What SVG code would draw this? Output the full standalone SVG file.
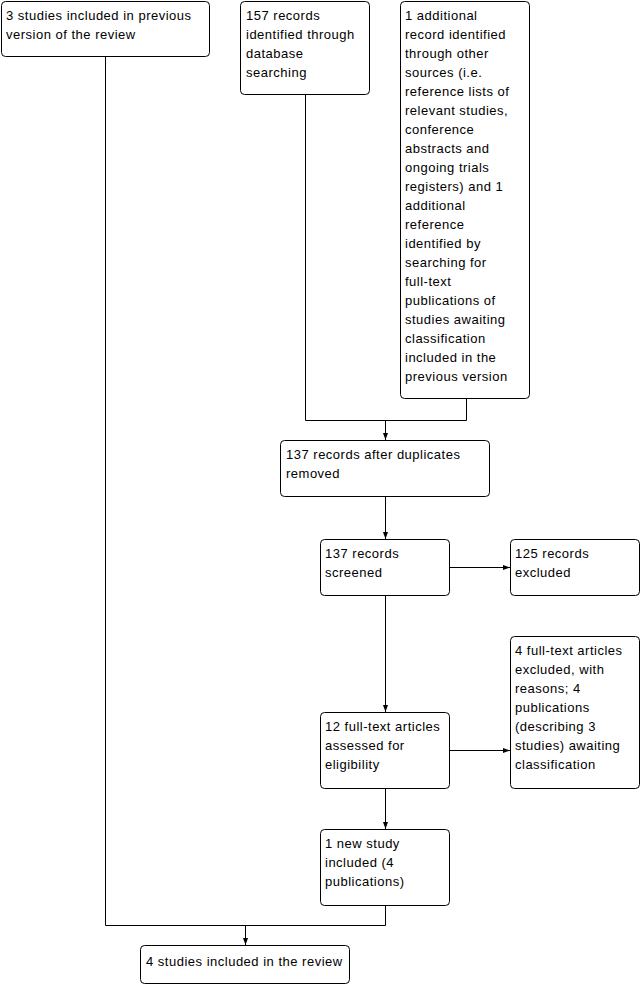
<svg xmlns="http://www.w3.org/2000/svg" width="642" height="985" viewBox="0 0 642 985">
<style>
.b{fill:#fff;stroke:#000;stroke-width:1}
.t{font-family:"Liberation Sans",Arial,sans-serif;font-size:13px;letter-spacing:0.5px;fill:#000}
.c{fill:none;stroke:#000;stroke-width:1}
</style>
<defs>
<marker id="a" markerWidth="8" markerHeight="6" refX="7" refY="3" orient="auto" markerUnits="userSpaceOnUse">
<path d="M0,0.5 L7,3 L0,5.5 z" fill="#000"/>
</marker>
</defs>
<rect width="642" height="985" fill="#fff"/>
<g id="connectors">
<path class="c" d="M305.5,95 V420.5 H466.5 V399"/>
<path class="c" d="M385.5,420.5 V440" marker-end="url(#a)"/>
<path class="c" d="M385.5,496 V539" marker-end="url(#a)"/>
<path class="c" d="M449,567.5 H510" marker-end="url(#a)"/>
<path class="c" d="M385.5,595 V712" marker-end="url(#a)"/>
<path class="c" d="M449,750.5 H510" marker-end="url(#a)"/>
<path class="c" d="M385.5,788 V829" marker-end="url(#a)"/>
<path class="c" d="M105.5,57 V925.5 H385.5 V905"/>
<path class="c" d="M245.5,925.5 V945" marker-end="url(#a)"/>
</g>
<g id="n1"><rect class="b" x="1.5" y="1.5" width="208" height="55" rx="4"/>
<text class="t" x="6" y="20">3 studies included in previous</text>
<text class="t" x="6" y="39">version of the review</text></g>
<g id="n2"><rect class="b" x="240.5" y="1.5" width="129" height="93" rx="4"/>
<text class="t" x="246" y="20">157 records</text>
<text class="t" x="246" y="39">identified through</text>
<text class="t" x="246" y="58">database</text>
<text class="t" x="246" y="77">searching</text></g>
<g id="n3"><rect class="b" x="400.5" y="1.5" width="129" height="397" rx="4"/>
<text class="t" x="405" y="20">1 additional</text>
<text class="t" x="405" y="39">record identified</text>
<text class="t" x="405" y="58">through other</text>
<text class="t" x="405" y="77">sources (i.e.</text>
<text class="t" x="405" y="96">reference lists of</text>
<text class="t" x="405" y="115">relevant studies,</text>
<text class="t" x="405" y="134">conference</text>
<text class="t" x="405" y="153">abstracts and</text>
<text class="t" x="405" y="172">ongoing trials</text>
<text class="t" x="405" y="191">registers) and 1</text>
<text class="t" x="405" y="210">additional</text>
<text class="t" x="405" y="229">reference</text>
<text class="t" x="405" y="248">identified by</text>
<text class="t" x="405" y="267">searching for</text>
<text class="t" x="405" y="286">full-text</text>
<text class="t" x="405" y="305">publications of</text>
<text class="t" x="405" y="324">studies awaiting</text>
<text class="t" x="405" y="343">classification</text>
<text class="t" x="405" y="362">included in the</text>
<text class="t" x="405" y="381">previous version</text></g>
<g id="n4"><rect class="b" x="280.5" y="440.5" width="209" height="56" rx="4"/>
<text class="t" x="286" y="459">137 records after duplicates</text>
<text class="t" x="286" y="478">removed</text></g>
<g id="n5"><rect class="b" x="320.5" y="539.5" width="129" height="56" rx="4"/>
<text class="t" x="325" y="558">137 records</text>
<text class="t" x="325" y="577">screened</text></g>
<g id="n6"><rect class="b" x="510.5" y="539.5" width="129" height="56" rx="4"/>
<text class="t" x="515" y="558">125 records</text>
<text class="t" x="515" y="577">excluded</text></g>
<g id="n7"><rect class="b" x="320.5" y="712.5" width="129" height="76" rx="4"/>
<text class="t" x="325" y="731">12 full-text articles</text>
<text class="t" x="325" y="750">assessed for</text>
<text class="t" x="325" y="769">eligibility</text></g>
<g id="n8"><rect class="b" x="510.5" y="636.5" width="129" height="152" rx="4"/>
<text class="t" x="515" y="655">4 full-text articles</text>
<text class="t" x="515" y="674">excluded, with</text>
<text class="t" x="515" y="693">reasons; 4</text>
<text class="t" x="515" y="712">publications</text>
<text class="t" x="515" y="731">(describing 3</text>
<text class="t" x="515" y="750">studies) awaiting</text>
<text class="t" x="515" y="769">classification</text></g>
<g id="n9"><rect class="b" x="320.5" y="829.5" width="129" height="76" rx="4"/>
<text class="t" x="325" y="848">1 new study</text>
<text class="t" x="325" y="867">included (4</text>
<text class="t" x="325" y="886">publications)</text></g>
<g id="n10"><rect class="b" x="140.5" y="945.5" width="209" height="38" rx="4"/>
<text class="t" x="146" y="966">4 studies included in the review</text></g>
</svg>
